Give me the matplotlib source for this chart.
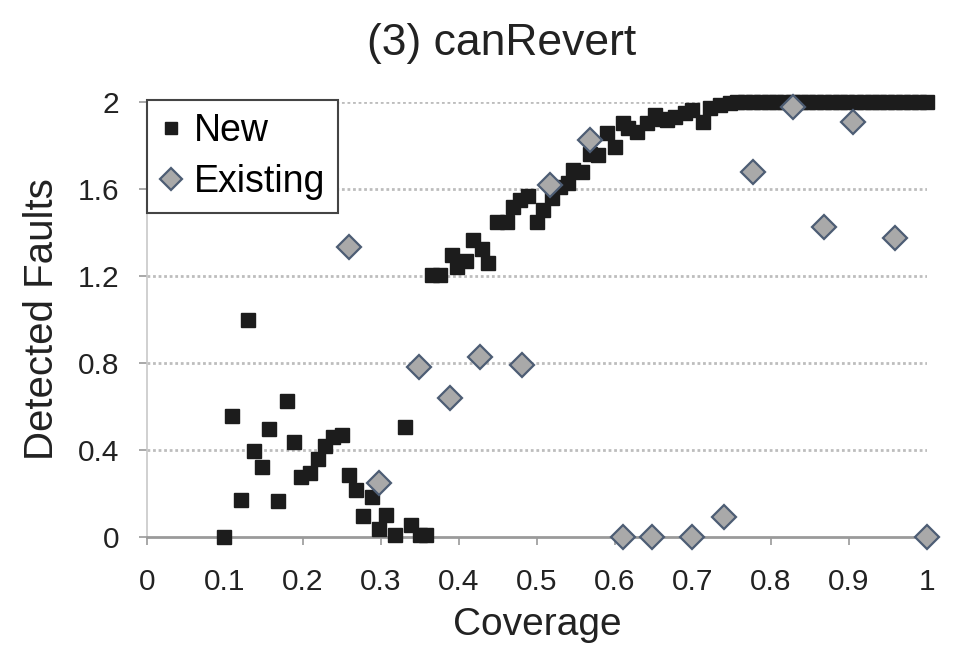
import matplotlib
matplotlib.use("Agg")
import matplotlib.pyplot as plt
import numpy as np

plt.rcParams['font.family'] = ['Liberation Sans', 'DejaVu Sans']

# "New" series: coverage vs detected faults
new_x = [0.099, 0.109, 0.120, 0.129, 0.137, 0.148, 0.157, 0.168, 0.179, 0.189,
         0.197, 0.209, 0.219, 0.228, 0.239, 0.250, 0.259, 0.268, 0.277, 0.288,
         0.297, 0.307, 0.318, 0.331, 0.339, 0.350, 0.358,
         0.365, 0.375, 0.391, 0.397, 0.409, 0.418, 0.429, 0.437, 0.449, 0.461,
         0.469, 0.478, 0.488, 0.500, 0.508, 0.519, 0.529, 0.540, 0.546, 0.558,
         0.568, 0.578, 0.590, 0.600, 0.610, 0.617, 0.628, 0.641, 0.651, 0.660,
         0.667, 0.677, 0.690, 0.699, 0.713, 0.722, 0.735, 0.747,
         0.757, 0.767, 0.777, 0.787, 0.797, 0.807, 0.817, 0.828, 0.838, 0.848,
         0.858, 0.868, 0.878, 0.888, 0.898, 0.909, 0.919, 0.929, 0.939, 0.949,
         0.959, 0.969, 0.979, 0.990, 1.000]
new_y = [0.00, 0.556, 0.17, 1.00, 0.395, 0.32, 0.497, 0.165, 0.625, 0.437,
         0.276, 0.294, 0.358, 0.42, 0.46, 0.47, 0.285, 0.216, 0.097, 0.184,
         0.037, 0.10, 0.01, 0.506, 0.055, 0.01, 0.009,
         1.205, 1.205, 1.297, 1.241, 1.269, 1.366, 1.324, 1.26, 1.448, 1.448,
         1.517, 1.549, 1.568, 1.448, 1.503, 1.559, 1.609, 1.628, 1.687, 1.678,
         1.76, 1.756, 1.857, 1.793, 1.903, 1.88, 1.862, 1.903, 1.94, 1.92,
         1.917, 1.93, 1.95, 1.963, 1.908, 1.972, 1.986, 1.995,
         2.0, 2.0, 2.0, 2.0, 2.0, 2.0, 2.0, 2.0, 2.0, 2.0,
         2.0, 2.0, 2.0, 2.0, 2.0, 2.0, 2.0, 2.0, 2.0, 2.0,
         2.0, 2.0, 2.0, 2.0, 2.0]

# "Existing" series
old_x = [0.259, 0.297, 0.349, 0.388, 0.427, 0.481, 0.517, 0.568, 0.610, 0.647,
         0.699, 0.740, 0.777, 0.828, 0.868, 0.905, 0.959, 1.000]
old_y = [1.333, 0.248, 0.782, 0.639, 0.828, 0.791, 1.618, 1.825, 0.0, 0.0,
         0.0, 0.092, 1.678, 1.977, 1.425, 1.908, 1.375, 0.0]

x_ticks = np.arange(0, 1.01, 0.1)
x_labels = ['0', '0.1', '0.2', '0.3', '0.4', '0.5', '0.6', '0.7', '0.8', '0.9', '1']
y_ticks = [0, 0.4, 0.8, 1.2, 1.6, 2.0]
y_labels = ['0', '0.4', '0.8', '1.2', '1.6', '2']

fig = plt.figure(figsize=(9.57, 6.57), dpi=100)
ax = fig.add_axes([147/957, 1-537/657, 780/957, 435/657])

for y in y_ticks[1:]:
    ax.axhline(y, color='#bdbdbd', lw=2, ls=(0, (1, 1)), zorder=1)

ax.plot(new_x, new_y, ls='none', marker='s', ms=10, mfc='#1c1c1c', mec='#1c1c1c',
        label='New', clip_on=False, zorder=3)
ax.plot(old_x, old_y, ls='none', marker='D', ms=12.5, mfc='#a9a9a9', mec='#4d5d74',
        mew=1.6, label='Existing', clip_on=False, zorder=4)

ax.set_xlim(0, 1)
ax.set_ylim(0, 2)
ax.set_xticks(x_ticks)
ax.set_xticklabels(x_labels)
ax.set_yticks(y_ticks)
ax.set_yticklabels(y_labels)

for s in ['top', 'right']:
    ax.spines[s].set_visible(False)
ax.spines['left'].set_color('#c8c8c8')
ax.spines['left'].set_linewidth(1.2)
ax.spines['bottom'].set_color('#9a9a9a')
ax.spines['bottom'].set_linewidth(2)

ax.tick_params(axis='x', length=6, width=1.2, color='#9a9a9a', pad=16, labelsize=21.5,
               labelcolor='#222222')
ax.tick_params(axis='y', length=6, width=1.2, color='#9a9a9a', pad=14, labelsize=21.5,
               labelcolor='#222222')

ax.set_xlabel('Coverage', fontsize=28, color='#222222', labelpad=8)
ax.set_ylabel('Detected Faults', fontsize=29, color='#222222', labelpad=12)
fig.text(502/957, 1-43/657, '(3) canRevert', fontsize=32, color='#222222',
         ha='center', va='center')

leg = ax.legend(loc='upper left', bbox_to_anchor=(0, 1.005), borderaxespad=0,
                fontsize=27, fancybox=False, framealpha=1, edgecolor='#444444',
                handlelength=0.6, handletextpad=0.3, borderpad=0.35, labelspacing=0.4,
                markerscale=0.9)
leg.get_frame().set_linewidth(1.5)
leg.set_zorder(5)

fig.savefig('out.png', dpi=100)
